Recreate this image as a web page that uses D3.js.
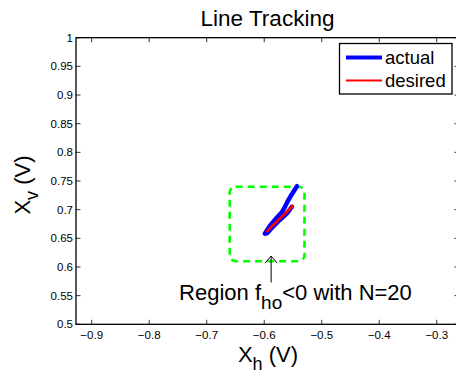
<!DOCTYPE html>
<html>
<head>
<meta charset="UTF-8">
<title>Line Tracking</title>
<style>
  body { margin: 0; background: #fff; }
  svg { display: block; font-family: "Liberation Sans", Arial, Helvetica, sans-serif; }
  .tick-label { font-size: 11.5px; fill: #000; }
</style>
<script src="https://d3js.org/d3.v7.min.js"></script>
</head>
<body>
<div id="chart"></div>
<script>
// data
const xTicks = [-0.9, -0.8, -0.7, -0.6, -0.5, -0.4, -0.3];
const yTicks = [0.5, 0.55, 0.6, 0.65, 0.7, 0.75, 0.8, 0.85, 0.9, 0.95, 1];
const actualX = [-0.543, -0.552, -0.560, -0.564, -0.569, -0.580, -0.590, -0.599, -0.595, -0.585, -0.573, -0.560, -0.552];
const actualY = [0.741, 0.727, 0.713, 0.705, 0.696, 0.684, 0.672, 0.658, 0.659, 0.670, 0.682, 0.694, 0.705];
const desiredX = [-0.596, -0.587, -0.574, -0.562, -0.549];
const desiredY = [0.661, 0.671, 0.683, 0.695, 0.708];
const regionBox = [-0.66, -0.53, 0.61, 0.74]; // x0, x1, y0, y1
const arrowX = -0.588, arrowTipY = 0.619, arrowTailY = 0.573;
const noteX = -0.748, noteY = 0.5425;

const W = 456, H = 377;
const x = d3.scaleLinear().domain([-0.9273, -0.2613]).range([76, 459]);
const y = d3.scaleLinear().domain([0.5, 1]).range([324.3, 37.7]);

const svg = d3.select("#chart").append("svg")
  .attr("width", W).attr("height", H);

const fmt = d => (d < 0 ? "\u2212" : "") + String(+Math.abs(d).toFixed(2));

// ticks on all four sides, pointing in
const tl = 4.5;
const ticks = svg.append("g").attr("stroke", "#000").attr("stroke-width", 0.8);
xTicks.forEach(t => {
  ticks.append("line").attr("x1", x(t)).attr("x2", x(t)).attr("y1", y.range()[0]).attr("y2", y.range()[0] - tl);
  ticks.append("line").attr("x1", x(t)).attr("x2", x(t)).attr("y1", y.range()[1]).attr("y2", y.range()[1] + tl);
});
yTicks.forEach(t => {
  ticks.append("line").attr("y1", y(t)).attr("y2", y(t)).attr("x1", x.range()[0]).attr("x2", x.range()[0] + tl);
  ticks.append("line").attr("y1", y(t)).attr("y2", y(t)).attr("x1", x.range()[1]).attr("x2", x.range()[1] - tl);
});

svg.selectAll(".xl").data(xTicks).enter().append("text")
  .attr("class", "tick-label")
  .attr("x", d => x(d)).attr("y", y(0.5) + 15)
  .attr("text-anchor", "middle")
  .text(fmt);

svg.selectAll(".yl").data(yTicks).enter().append("text")
  .attr("class", "tick-label")
  .attr("x", x.range()[0] - 3).attr("y", d => y(d) + 4)
  .attr("text-anchor", "end")
  .text(fmt);

// green dashed region
svg.append("rect")
  .attr("x", x(regionBox[0])).attr("y", y(regionBox[3]))
  .attr("width", x(regionBox[1]) - x(regionBox[0]))
  .attr("height", y(regionBox[2]) - y(regionBox[3]))
  .attr("rx", 6).attr("ry", 6)
  .attr("fill", "none").attr("stroke", "#00ff00")
  .attr("stroke-width", 2.6).attr("stroke-dasharray", "7,5");

// trajectories
const line = d3.line().x(d => x(d[0])).y(d => y(d[1]));
svg.append("path")
  .datum(d3.zip(actualX, actualY))
  .attr("d", line).attr("fill", "none")
  .attr("stroke", "#0000ff").attr("stroke-width", 4.5)
  .attr("stroke-linejoin", "round").attr("stroke-linecap", "round");
svg.append("path")
  .datum(d3.zip(desiredX, desiredY))
  .attr("d", line).attr("fill", "none")
  .attr("stroke", "#ff0000").attr("stroke-width", 2.6)
  .attr("stroke-linejoin", "round");

// arrow annotation
const ax = x(arrowX), ay = y(arrowTipY);
svg.append("line").attr("x1", ax).attr("x2", ax).attr("y1", ay).attr("y2", y(arrowTailY))
  .attr("stroke", "#000").attr("stroke-width", 1);
svg.append("path")
  .attr("d", `M${ax - 6},${ay + 7}L${ax},${ay}L${ax + 6},${ay + 7}`)
  .attr("fill", "none").attr("stroke", "#000").attr("stroke-width", 1);

const note = svg.append("text")
  .attr("x", x(noteX)).attr("y", y(noteY))
  .attr("font-size", 22).attr("fill", "#000");
note.append("tspan").text("Region f");
note.append("tspan").attr("dy", 9).attr("font-size", 19).text("ho");
note.append("tspan").attr("dy", -9).text("<0 with N=20");

// axes box
svg.append("rect")
  .attr("x", x.range()[0]).attr("y", y.range()[1])
  .attr("width", x.range()[1] - x.range()[0])
  .attr("height", y.range()[0] - y.range()[1])
  .attr("fill", "none").attr("stroke", "#000").attr("stroke-width", 1.3);

// legend
const lg = svg.append("g");
lg.append("rect").attr("x", 339.5).attr("y", 43.5).attr("width", 112.5).attr("height", 50.5)
  .attr("fill", "#fff").attr("stroke", "#000").attr("stroke-width", 1.3);
const legendItems = [{ name: "actual", color: "#0000ff", w: 4 }, { name: "desired", color: "#ff0000", w: 2 }];
legendItems.forEach((it, i) => {
  const ly = 57.5 + i * 23;
  lg.append("line").attr("x1", 346).attr("x2", 382).attr("y1", ly).attr("y2", ly)
    .attr("stroke", it.color).attr("stroke-width", it.w);
  lg.append("text").attr("x", 385).attr("y", ly + 6).attr("font-size", 18.5).text(it.name);
});

// title and axis labels
svg.append("text").attr("x", (x.range()[0] + x.range()[1]) / 2).attr("y", 26)
  .attr("text-anchor", "middle").attr("font-size", 22.5).text("Line Tracking");

const xl = svg.append("text").attr("x", 268).attr("y", 362)
  .attr("text-anchor", "middle").attr("font-size", 22);
xl.append("tspan").text("X");
xl.append("tspan").attr("dy", 8).attr("font-size", 18).text("h");
xl.append("tspan").attr("dy", -8).text(" (V)");

const yl = svg.append("text").attr("transform", "translate(30,185) rotate(-90)")
  .attr("text-anchor", "middle").attr("font-size", 22);
yl.append("tspan").text("X");
yl.append("tspan").attr("dy", 8).attr("font-size", 18).text("v");
yl.append("tspan").attr("dy", -8).text(" (V)");
</script>
</body>
</html>
